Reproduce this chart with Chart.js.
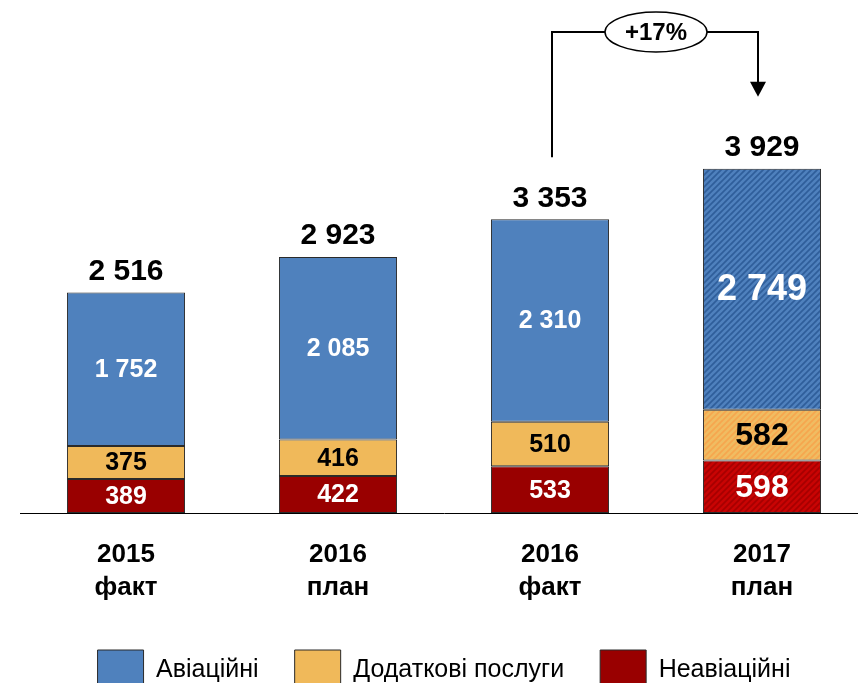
<!DOCTYPE html>
<html>
<head>
<meta charset="utf-8">
<script src="https://cdn.jsdelivr.net/npm/chart.js@4/dist/chart.umd.min.js"></script>
<style>
  html, body { margin: 0; padding: 0; background: #fff; overflow: hidden; }
  #wrap { width: 858px; height: 683px; overflow: hidden; }
</style>
</head>
<body>
<div id="wrap"><canvas id="revenueChart" width="880" height="700"></canvas></div>
<script>
const categories = [['2015', 'факт'], ['2016', 'план'], ['2016', 'факт'], ['2017', 'план']];
const seriesNames = ['Неавіаційні', 'Додаткові послуги', 'Авіаційні'];
const nonAviation = [389, 422, 533, 598];
const additional = [375, 416, 510, 582];
const aviation = [1752, 2085, 2310, 2749];
const totals = [2516, 2923, 3353, 3929];
const growthLabel = '+17%';

const FONT = "'Liberation Sans', Arial, sans-serif";
const planIndex = 3; // hatched bar

// thousands with a space, like "2 516"
function fmt(v) {
  return String(v).replace(/\B(?=(\d{3})+(?!\d))/g, ' ');
}

// diagonal hatch for the plan bar
function hatch(base, stripe) {
  const s = 6;
  const c = document.createElement('canvas');
  c.width = s; c.height = s;
  const g = c.getContext('2d');
  g.fillStyle = base;
  g.fillRect(0, 0, s, s);
  g.strokeStyle = stripe;
  g.lineWidth = 2.6;
  g.beginPath();
  g.moveTo(-1, s + 1); g.lineTo(s + 1, -1);
  g.moveTo(-1, 1); g.lineTo(1, -1);
  g.moveTo(s - 1, s + 1); g.lineTo(s + 1, s - 1);
  g.stroke();
  return g.createPattern(c, 'repeat');
}

const colors = ['#990000', '#F0B95A', '#4F81BD'];
const patterns = [
  hatch('#A60000', '#C80404'),
  hatch('#F6A64E', '#F0BC62'),
  hatch('#2F5E9A', '#4F81BD')
];
const labelColors = ['#fff', '#000', '#fff'];

function barColor(i) {
  return ctx => (ctx.type === 'data' && ctx.dataIndex === planIndex) ? patterns[i] : colors[i];
}

const labelsPlugin = {
  id: 'labels',
  afterDatasetsDraw(chart) {
    const ctx = chart.ctx;
    ctx.save();
    ctx.textAlign = 'center';
    ctx.textBaseline = 'middle';
    chart.data.datasets.forEach((ds, di) => {
      const meta = chart.getDatasetMeta(di);
      meta.data.forEach((bar, i) => {
        const big = i === planIndex;
        const size = big ? (di === 2 ? 36 : 32) : 25;
        ctx.font = 'bold ' + size + 'px ' + FONT;
        ctx.fillStyle = labelColors[di];
        ctx.fillText(fmt(ds.data[i]), bar.x, (bar.y + bar.base) / 2 + 1);
      });
    });
    // totals above bars
    const yScale = chart.scales.y;
    const top = chart.getDatasetMeta(2).data;
    ctx.font = 'bold 30px ' + FONT;
    ctx.fillStyle = '#000';
    totals.forEach((t, i) => {
      ctx.fillText(fmt(t), top[i].x, yScale.getPixelForValue(t) - 21);
    });

    // growth bracket between the last two bars
    const x1 = top[2].x + 2;
    const x2 = top[3].x - 4;
    const yStart = yScale.getPixelForValue(totals[2]) - 62;
    const yTip = yScale.getPixelForValue(totals[3]) - 72;
    const yLine = 32;
    const cx = (x1 + x2) / 2 + 1;
    ctx.strokeStyle = '#000';
    ctx.lineWidth = 2;
    ctx.beginPath();
    ctx.moveTo(x1, yStart);
    ctx.lineTo(x1, yLine);
    ctx.lineTo(x2, yLine);
    ctx.lineTo(x2, yTip - 14);
    ctx.stroke();
    ctx.fillStyle = '#000';
    ctx.beginPath();
    ctx.moveTo(x2 - 8, yTip - 15);
    ctx.lineTo(x2 + 8, yTip - 15);
    ctx.lineTo(x2, yTip);
    ctx.closePath();
    ctx.fill();
    ctx.beginPath();
    ctx.ellipse(cx, yLine, 51, 20, 0, 0, Math.PI * 2);
    ctx.fillStyle = '#fff';
    ctx.fill();
    ctx.lineWidth = 1.5;
    ctx.stroke();
    ctx.fillStyle = '#000';
    ctx.font = 'bold 24px ' + FONT;
    ctx.fillText(growthLabel, cx, yLine + 1);
    ctx.restore();
  }
};

const seriesData = [nonAviation, additional, aviation];

new Chart(document.getElementById('revenueChart'), {
  type: 'bar',
  data: {
    labels: categories,
    datasets: seriesData.map((d, i) => ({
      label: seriesNames[i],
      data: d,
      backgroundColor: barColor(i),
      borderColor: '#2a2a2a',
      borderWidth: 1,
      borderSkipped: false,
      categoryPercentage: 1,
      barPercentage: 0.557
    }))
  },
  options: {
    responsive: false,
    devicePixelRatio: 1,
    animation: false,
    layout: { padding: { left: 20, right: 12, top: 75, bottom: 0 } },
    plugins: {
      tooltip: { enabled: false },
      legend: {
        position: 'bottom',
        reverse: true,
        labels: {
          color: '#000',
          font: { family: FONT, size: 25 },
          boxWidth: 46,
          boxHeight: 40,
          padding: 36
        }
      }
    },
    scales: {
      x: {
        stacked: true,
        grid: { display: false, drawTicks: false },
        border: { display: true, color: '#000', width: 1 },
        ticks: {
          color: '#000',
          font: { family: FONT, size: 26, weight: 'bold', lineHeight: 1.25 },
          padding: 26
        },
        afterFit(scale) { scale.height = 101; }
      },
      y: {
        stacked: true,
        display: false,
        min: 0,
        max: 5000
      }
    }
  },
  plugins: [labelsPlugin]
});
</script>
</body>
</html>
